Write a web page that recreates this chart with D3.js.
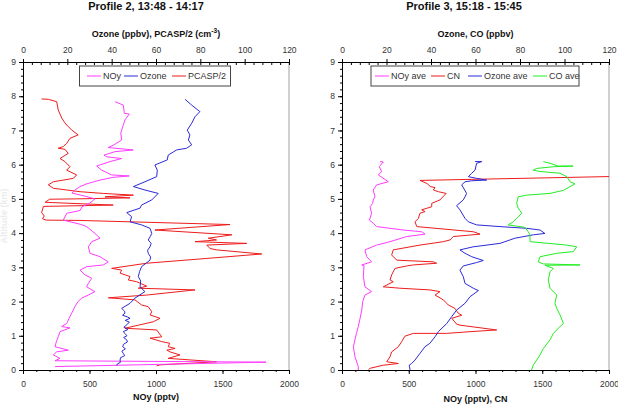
<!DOCTYPE html>
<html>
<head>
<meta charset="utf-8">
<script src="https://cdn.jsdelivr.net/npm/d3@7"></script>
<style>
  html, body { margin: 0; padding: 0; background: #fff; }
  svg { display: block; font-family: "Liberation Sans", Arial, sans-serif; }
</style>
</head>
<body>
<svg id="chart" width="618" height="405"></svg>
<script>
// ---------------- DATA ([altitude km, value]) ----------------
const altTicks = [0,1,2,3,4,5,6,7,8,9];
const bottomTicks = [0,500,1000,1500,2000];
const topTicks = [0,20,40,60,80,100,120];

// Profile 2
const p2Titles = { title: "Profile 2, 13:48 - 14:17", top: "Ozone (ppbv), PCASP/2 (cm", bottom: "NOy (pptv)" };
const p2Legend = ["NOy", "Ozone", "PCASP/2"];

const p2NOy = [
 [7.84,692],[7.74,754],[7.5,762],[7.48,799],[7.31,767],[7.11,750],[6.92,735],[6.72,742],
 [6.57,679],[6.5,641],[6.43,829],[6.38,692],[6.28,609],[6.23,629],[6.18,742],[6.09,654],
 [5.96,554],[5.84,592],[5.7,667],[5.67,799],[5.63,679],[5.55,579],[5.44,479],[5.36,429],
 [5.26,391],[5.17,368],[5.08,466],[5.0,541],[4.88,504],[4.77,444],[4.66,429],[4.58,329],
 [4.38,303],[4.26,429],[4.19,479],[3.99,541],[3.85,579],[3.75,517],[3.6,491],[3.41,504],
 [3.31,579],[3.16,641],[3.07,604],[3.02,479],[2.92,429],[2.78,466],[2.68,517],[2.53,491],
 [2.43,479],[2.29,541],[2.19,491],[2.1,441],[2.0,414],[1.85,390],[1.66,366],[1.5,345],
 [1.36,329],[1.27,291],[1.23,353],[1.12,278],[0.97,265],[0.82,250],[0.68,241],[0.58,341],
 [0.53,253],[0.44,228],[0.34,278],[0.27,241],[0.23,1827],[0.1,241]
];
const p2Ozone = [
 [7.91,73.1],[7.74,76.1],[7.55,79.8],[7.4,77.6],[7.21,76.1],[7.01,74.1],[6.87,75.3],[6.72,74.6],
 [6.58,76.1],[6.48,73.8],[6.43,69.3],[6.28,65.5],[6.14,65.1],[5.99,59.5],[5.84,60.6],[5.65,60.3],
 [5.5,55.0],[5.36,49.8],[5.26,55.0],[5.16,61.0],[4.97,58.1],[4.82,53.5],[4.73,52.8],[4.6,46.8],
 [4.48,49.0],[4.33,48.3],[4.24,53.5],[4.14,57.3],[3.99,58.1],[3.9,57.4],[3.8,56.5],[3.7,57.8],
 [3.6,57.3],[3.5,56.2],[3.41,56.5],[3.3,57.6],[3.21,57.3],[3.02,53.5],[2.88,52.6],[2.73,52.0],
 [2.6,53.1],[2.43,52.8],[2.29,55.0],[2.1,50.5],[1.95,48.3],[1.8,44.5],[1.72,45.8],[1.66,46.0],
 [1.6,44.9],[1.55,47.2],[1.51,48.3],[1.45,46.1],[1.4,48.0],[1.32,46.8],[1.25,45.5],[1.18,47.3],
 [1.12,45.2],[1.07,46.0],[1.0,46.9],[0.95,45.4],[0.88,46.8],[0.82,47.1],[0.75,45.3],[0.68,45.0],
 [0.62,46.2],[0.55,44.6],[0.49,45.2],[0.42,45.9],[0.36,44.0],[0.29,43.8],[0.22,43.9],[0.18,42.6],
 [0.13,42.3]
];
const p2PCASP = [
 [7.92,8.4],[7.91,11.4],[7.84,15.2],[7.6,15.9],[7.36,17.5],[7.26,18.5],[7.16,19.7],[7.01,22.0],
 [6.87,24.9],[6.77,21.2],[6.62,19.7],[6.53,18.2],[6.48,15.9],[6.45,18.9],[6.33,20.4],[6.18,16.7],
 [6.09,18.9],[5.94,21.2],[5.84,19.7],[5.7,24.2],[5.6,22.7],[5.5,13.7],[5.41,11.4],[5.31,13.7],
 [5.26,19.7],[5.21,25.7],[5.16,36.2],[5.11,49.8],[5.06,37.0],[5.03,48.3],[5.0,24.0],[4.99,12.0],
 [4.9,10.0],[4.82,40.7],[4.78,9.2],[4.6,8.4],[4.5,9.6],[4.42,8.8],[4.38,10.5],[4.37,25.7],
 [4.25,93.4],[4.09,59.5],[3.95,94.2],[3.85,83.6],[3.8,87.3],[3.75,77.6],[3.7,100.9],[3.65,82.9],
 [3.55,84.4],[3.51,87.3],[3.39,107.7],[3.26,82.9],[3.12,55.8],[2.97,40.0],[2.92,44.5],[2.83,43.8],
 [2.73,48.3],[2.63,47.5],[2.58,51.3],[2.45,55.8],[2.39,52.0],[2.34,77.6],[2.19,55.8],[2.11,38.5],
 [2.05,50.5],[1.9,53.5],[1.85,56.5],[1.7,58.1],[1.61,57.3],[1.51,61.8],[1.41,58.8],[1.22,46.0],
 [1.17,60.3],[0.97,62.6],[0.93,57.3],[0.83,62.6],[0.78,66.2],[0.68,65.5],[0.63,68.6],[0.58,64.9],
 [0.53,66.3],[0.44,70.8],[0.34,65.5],[0.24,87.3],[0.15,61.8],[0.12,60.3]
];

// Profile 3
const p3Titles = { title: "Profile 3, 15:18 - 15:45", top: "Ozone, CO (ppbv)", bottom: "NOy (pptv), CN" };
const p3Legend = ["NOy ave", "CN", "Ozone ave", "CO ave"];

const p3NOy = [
 [6.09,285],[6.08,309],[5.94,279],[5.8,297],[5.7,272],[5.5,347],[5.41,260],[5.26,234],
 [5.06,247],[4.97,234],[4.87,230],[4.77,210],[4.58,222],[4.38,205],[4.29,234],[4.19,260],
 [4.09,459],[4.04,597],[3.97,622],[3.9,485],[3.75,360],[3.65,260],[3.51,172],[3.31,185],
 [3.16,222],[3.07,148],[3.05,165],[2.73,160],[2.43,172],[2.29,222],[2.19,172],[2.0,155],
 [1.75,148],[1.5,135],[1.27,122],[1.1,110],[0.88,97],[0.68,85],[0.39,97],[0.1,122],[0.0,122]
];
const p3CN = [
 [5.66,2100],[5.54,584],[5.45,637],[5.36,662],[5.33,697],[5.26,684],[5.21,722],[5.16,780],
 [4.97,734],[4.87,672],[4.77,672],[4.68,597],[4.63,622],[4.58,584],[4.43,572],[4.33,547],
 [4.19,560],[4.04,984],[3.97,1034],[3.9,834],[3.8,809],[3.75,759],[3.65,584],[3.51,384],
 [3.36,372],[3.21,410],[3.16,684],[3.12,709],[3.07,534],[3.04,485],[2.97,397],[2.78,372],
 [2.63,360],[2.58,384],[2.43,309],[2.39,434],[2.34,659],[2.29,734],[2.19,697],[2.05,759],
 [1.9,796],[1.8,846],[1.66,871],[1.6,897],[1.51,822],[1.34,859],[1.31,884],[1.17,1159],
 [1.12,959],[1.07,784],[1.07,534],[0.99,472],[0.83,447],[0.68,422],[0.53,372],[0.39,360],
 [0.24,335],[0.19,422],[0.14,309],[0.05,210],[0.0,197]
];
const p3Ozone = [
 [6.09,59.8],[6.09,62.8],[6.04,60.5],[5.84,59.8],[5.75,58.3],[5.65,56.8],[5.6,60.5],[5.55,65.0],
 [5.53,58.3],[5.5,55.3],[5.41,53.8],[5.16,56.0],[5.06,55.3],[4.97,54.5],[4.8,51.5],[4.68,53.0],
 [4.43,55.3],[4.33,56.8],[4.24,60.5],[4.19,71.0],[4.14,83.0],[4.09,89.0],[3.99,91.2],[3.95,86.0],
 [3.85,77.7],[3.7,71.0],[3.6,59.0],[3.51,53.0],[3.41,55.3],[3.31,58.3],[3.2,63.5],[3.14,60.5],
 [3.04,54.5],[2.92,53.0],[2.73,54.5],[2.53,55.3],[2.39,59.0],[2.32,61.3],[2.14,57.5],[1.95,55.3],
 [1.75,51.5],[1.56,49.3],[1.36,47.1],[1.12,43.3],[0.97,41.8],[0.78,39.5],[0.68,37.3],[0.49,35.1],
 [0.29,32.8],[0.19,31.3],[0.14,30.2],[0.0,30.6]
];
const p3CO = [
 [6.09,90.5],[6.04,93.5],[5.96,97.2],[5.96,103.9],[5.94,95.0],[5.89,87.5],[5.84,86.0],[5.8,89.0],
 [5.75,98.0],[5.65,101.0],[5.5,102.5],[5.44,104.7],[5.36,102.5],[5.25,99.5],[5.16,93.5],[5.11,83.0],
 [5.06,79.2],[4.87,78.5],[4.73,79.2],[4.58,80.8],[4.43,78.5],[4.33,77.0],[4.24,74.7],[4.17,82.2],
 [4.04,83.7],[3.95,84.5],[3.75,84.5],[3.65,101.0],[3.6,105.5],[3.46,104.0],[3.41,96.5],[3.31,89.0],
 [3.16,88.2],[3.1,90.5],[3.07,107.0],[3.06,91.2],[2.97,95.0],[2.87,93.5],[2.63,92.7],[2.39,93.5],
 [2.19,96.5],[1.95,95.7],[1.8,96.5],[1.61,98.0],[1.36,99.5],[1.22,97.2],[1.07,95.0],[0.88,93.5],
 [0.63,90.5],[0.44,89.0],[0.29,87.5],[0.15,86.0],[0.0,85.2]
];

// ---------------- DRAWING ----------------
const COL = { noy: "#ff3cff", ozone: "#2a2ad8", red: "#ee1c1c", green: "#22ee22" };
const svg = d3.select("#chart");
const TXT = "#333";

function panel(cfg) {
  const g = svg.append("g");
  const y = d3.scaleLinear().domain([0, 9]).range([370, 62]);
  const xb = d3.scaleLinear().domain([0, 2000]).range([cfg.x0, cfg.x1]);
  const xt = d3.scaleLinear().domain([0, 120]).range([cfg.x0, cfg.x1]);

  const clipId = "clip" + cfg.id;
  svg.append("clipPath").attr("id", clipId).append("rect")
    .attr("x", cfg.x0).attr("y", 62).attr("width", cfg.x1 - cfg.x0).attr("height", 308);

  // right border
  g.append("line").attr("x1", cfg.x1).attr("x2", cfg.x1).attr("y1", 62).attr("y2", 370)
    .attr("stroke", "#a0a0a0").attr("stroke-width", 1);

  // series
  const lines = g.append("g").attr("clip-path", `url(#${clipId})`);
  cfg.series.forEach(s => {
    const sc = s.scale === "top" ? xt : xb;
    const line = d3.line().x(d => sc(d[1])).y(d => y(d[0]));
    lines.append("path").datum(s.data).attr("d", line)
      .attr("fill", "none").attr("stroke", s.color).attr("stroke-width", 1)
      .attr("stroke-linejoin", "round");
  });

  // axes
  const styleAxis = sel => {
    sel.selectAll("path.domain").attr("stroke", "#000");
    sel.selectAll("line").attr("stroke", "#000");
    sel.selectAll("text").attr("fill", TXT).attr("font-size", 8.5)
      .attr("font-family", "Liberation Sans, Arial, sans-serif");
  };
  // left
  g.append("g").attr("transform", `translate(${cfg.x0},0)`)
    .call(d3.axisLeft(y).tickValues(d3.range(0, 9.01, 0.2)).tickSize(2).tickSizeOuter(0).tickFormat(""))
    .call(styleAxis);
  g.append("g").attr("transform", `translate(${cfg.x0},0)`)
    .call(d3.axisLeft(y).tickValues(altTicks).tickSize(4).tickSizeOuter(0).tickPadding(3).tickFormat(d3.format("d")))
    .call(styleAxis);
  // bottom
  g.append("g").attr("transform", "translate(0,370)")
    .call(d3.axisBottom(xb).tickValues(d3.range(0, 2001, 100)).tickSize(2).tickSizeOuter(0).tickFormat(""))
    .call(styleAxis);
  g.append("g").attr("transform", "translate(0,370)")
    .call(d3.axisBottom(xb).tickValues(bottomTicks).tickSize(4).tickSizeOuter(0).tickPadding(7).tickFormat(d3.format("d")))
    .call(styleAxis);
  // top
  g.append("g").attr("transform", "translate(0,62)")
    .call(d3.axisTop(xt).tickValues(d3.range(0, 120.01, 4)).tickSize(-3).tickSizeOuter(0).tickFormat(""))
    .call(styleAxis);
  g.append("g").attr("transform", "translate(0,62)")
    .call(d3.axisTop(xt).tickValues(topTicks).tickSize(3).tickSizeOuter(0).tickPadding(6).tickFormat(d3.format("d")))
    .call(styleAxis);

  const cx = (cfg.x0 + cfg.x1) / 2;
  // titles
  g.append("text").attr("x", cfg.titleX).attr("y", 9.5).attr("text-anchor", "middle")
    .attr("font-size", 11).attr("font-weight", "bold").attr("fill", "#111").text(cfg.titles.title);
  const tt = g.append("text").attr("x", cx).attr("y", 36.5).attr("text-anchor", "middle")
    .attr("font-size", 9).attr("font-weight", "bold").attr("fill", "#111").text(cfg.titles.top);
  if (cfg.superscript) {
    tt.append("tspan").attr("dy", -3.5).attr("font-size", 6.5).text("-3");
    tt.append("tspan").attr("dy", 3.5).text(")");
  }
  g.append("text").attr("x", cx).attr("y", cfg.bottomY).attr("text-anchor", "middle")
    .attr("font-size", 9).attr("font-weight", "bold").attr("fill", "#111").text(cfg.titles.bottom);

  // legend
  const lg = g.append("g");
  lg.append("rect").attr("x", cfg.legend.x).attr("y", 66).attr("width", cfg.legend.w).attr("height", 20)
    .attr("fill", "#fff").attr("stroke", "#444").attr("stroke-width", 1);
  cfg.legend.items.forEach((it, i) => {
    lg.append("line").attr("x1", it.lx).attr("x2", it.lx + 14).attr("y1", 76).attr("y2", 76)
      .attr("stroke", it.color).attr("stroke-width", 1);
    lg.append("text").attr("x", it.lx + 16).attr("y", 79.3).attr("font-size", 9)
      .attr("fill", TXT).text(it.label);
  });
}

panel({
  id: 1, x0: 23, x1: 289, titleX: 146, titles: p2Titles, superscript: true, bottomY: 399.5,
  series: [
    { data: p2PCASP, scale: "top", color: COL.red },
    { data: p2NOy, scale: "bottom", color: COL.noy },
    { data: p2Ozone, scale: "top", color: COL.ozone }
  ],
  legend: { x: 79.5, w: 151, items: [
    { lx: 87, label: p2Legend[0], color: COL.noy },
    { lx: 124, label: p2Legend[1], color: COL.ozone },
    { lx: 172, label: p2Legend[2], color: COL.red }
  ]}
});

panel({
  id: 2, x0: 342, x1: 609, titleX: 464, titles: p3Titles, superscript: false, bottomY: 402,
  series: [
    { data: p3NOy, scale: "bottom", color: COL.noy },
    { data: p3CN, scale: "bottom", color: COL.red },
    { data: p3Ozone, scale: "top", color: COL.ozone },
    { data: p3CO, scale: "top", color: COL.green }
  ],
  legend: { x: 371, w: 208, items: [
    { lx: 375, label: p3Legend[0], color: COL.noy },
    { lx: 431, label: p3Legend[1], color: COL.red },
    { lx: 468, label: p3Legend[2], color: COL.ozone },
    { lx: 533, label: p3Legend[3], color: COL.green }
  ]}
});

// faint vertical axis label (barely visible in reference)
svg.append("text").attr("transform", "translate(7,216) rotate(-90)")
  .attr("text-anchor", "middle").attr("font-size", 9).attr("font-weight", "bold")
  .attr("fill", "#ececec").text("Altitude (km)");
</script>
</body>
</html>
